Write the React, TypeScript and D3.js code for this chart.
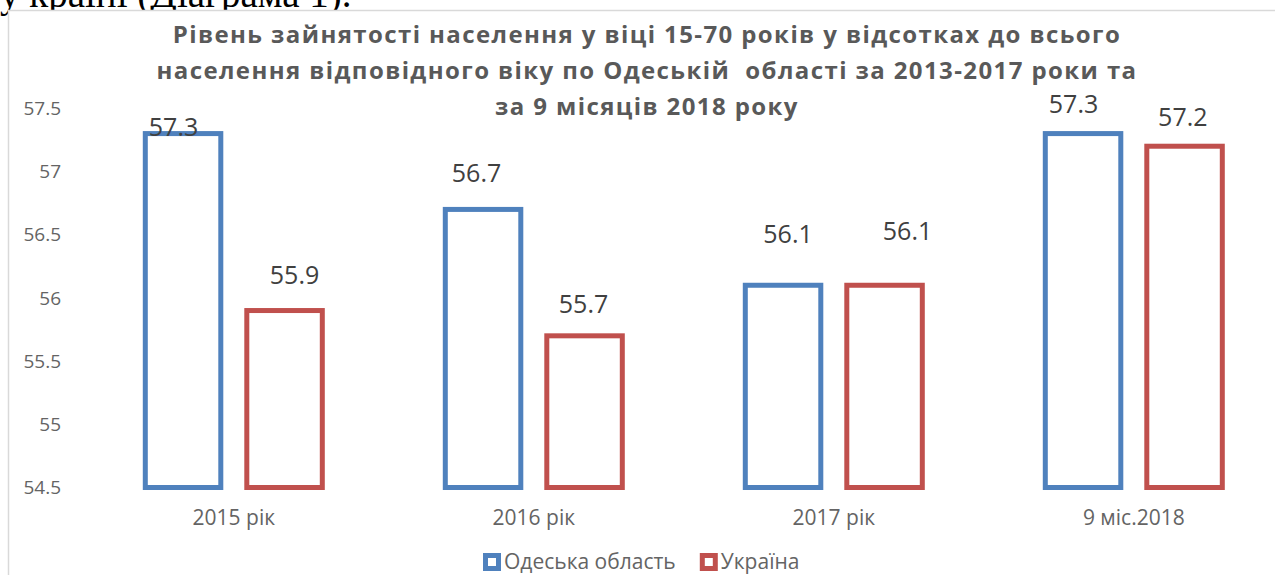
import React from "react";
import * as d3 from "d3";

const categories = ["2015 рік", "2016 рік", "2017 рік", "9 міс.2018"];
const seriesNames = ["Одеська область", "Україна"];
const odesaValues = [57.3, 56.7, 56.1, 57.3];
const ukraineValues = [55.9, 55.7, 56.1, 57.2];
const yTicks = [54.5, 55, 55.5, 56, 56.5, 57, 57.5];
const titleLines = [
  "Рівень зайнятості населення у віці 15-70 років у відсотках до всього",
  "населення відповідного віку по Одеській  області за 2013-2017 роки та",
  "за 9 місяців 2018 року",
];
const headerText = "у країні (Діаграма 1).";

const colors = ["#4f81bd", "#c0504d"];
// manual label nudges (dx, dy of baseline relative to bar top), as in the original
const labelNudgeX = [
  [-9.5, 10],
  [-6.5, -1],
  [5, 23],
  [-9.5, -1.7],
];
const labelNudgeY = [
  [2, -26.5],
  [-27.7, -23],
  [-42, -45],
  [-21, -20.4],
];

const W = 1275;
const H = 575;
const FONT = "'Open Sans', 'DejaVu Sans', sans-serif";

export default function App() {
  const y = d3.scaleLinear().domain([54.5, 57.5]).range([487.5, 108.3]);
  const x0 = d3.scaleBand<string>().domain(categories).range([83.8, 1283.8]).padding(0);
  const x1 = d3
    .scaleBand<string>()
    .domain(seriesNames)
    .range([-91, 91])
    .paddingInner(21 / 101.5)
    .paddingOuter(0);
  const sw = 5;
  const series = [odesaValues, ukraineValues];

  return (
    <div style={{ position: "absolute", left: 0, top: 0, width: W, height: H, overflow: "hidden", background: "#fff" }}>
      <svg width={W} height={H} style={{ display: "block" }}>
        <rect x={0} y={0} width={W} height={H} fill="#fff" />
        <text x={0} y={7} fontFamily="'Liberation Serif', 'Times New Roman', serif" fontSize={39} fill="#000">
          {headerText}
        </text>
        <rect x={8.5} y={10.5} width={W + 20} height={H + 20} fill="#fff" stroke="#d9d9d9" strokeWidth={1.5} />
        {titleLines.map((t, i) => (
          <text
            key={i}
            x={647}
            y={43 + i * 36}
            textAnchor="middle"
            fontFamily={FONT}
            fontWeight={700}
            fontSize={24}
            letterSpacing={1.4}
            fill="#595959"
            style={{ whiteSpace: "pre" }}
          >
            {t}
          </text>
        ))}
        {yTicks.map((t) => (
          <text
            key={t}
            x={61}
            y={y(t)}
            dy="0.35em"
            textAnchor="end"
            fontFamily={FONT}
            fontSize={19}
            fill="#646464"
          >
            {d3.format("")(t)}
          </text>
        ))}
        {categories.map((c, ci) => {
          const cx = (x0(c) as number) + x0.bandwidth() / 2;
          return (
            <g key={c}>
              {series.map((vals, si) => {
                const bx = cx + (x1(seriesNames[si]) as number);
                const bw = x1.bandwidth();
                const top = y(vals[ci]);
                return (
                  <g key={si}>
                    <rect
                      x={bx + sw / 2}
                      y={top}
                      width={bw - sw}
                      height={y(54.5) - top}
                      fill="#fff"
                      stroke={colors[si]}
                      strokeWidth={sw}
                    />
                    <text
                      x={bx + bw / 2 + labelNudgeX[ci][si]}
                      y={top + labelNudgeY[ci][si]}
                      textAnchor="middle"
                      fontFamily={FONT}
                      fontSize={25}
                      fill="#404040"
                    >
                      {d3.format(".1f")(vals[ci])}
                    </text>
                  </g>
                );
              })}
              <text x={cx} y={525} textAnchor="middle" fontFamily={FONT} fontSize={21} fill="#646464">
                {c}
              </text>
            </g>
          );
        })}
        {seriesNames.map((s, i) => {
          const lx = [485.5, 702.3][i];
          return (
            <g key={s}>
              <rect x={lx} y={555.5} width={13} height={13} fill="#fff" stroke={colors[i]} strokeWidth={5} />
              <text x={lx + 18.5} y={569} fontFamily={FONT} fontSize={21} fill="#646464">
                {s}
              </text>
            </g>
          );
        })}
      </svg>
    </div>
  );
}
